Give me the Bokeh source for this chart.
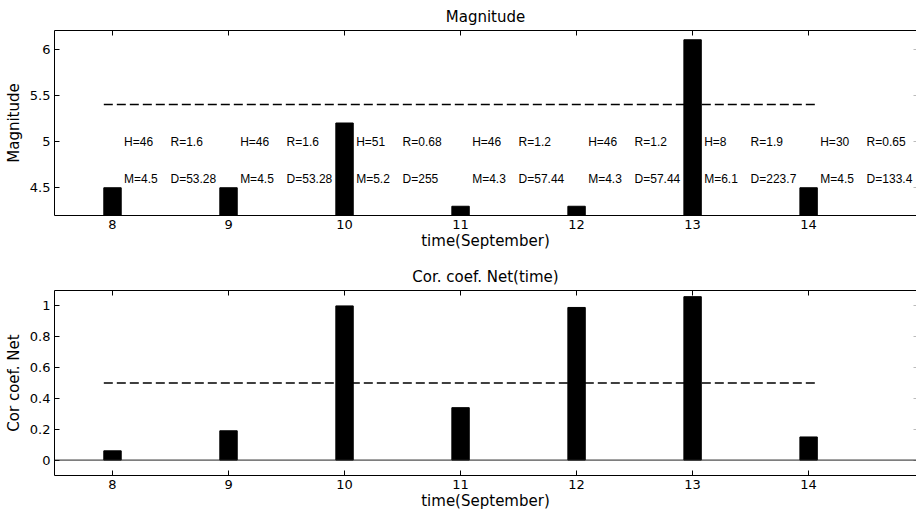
from bokeh.plotting import figure
from bokeh.models import Range1d, LinearAxis, FixedTicker, CustomJSTickFormatter, Span, ColumnDataSource
from bokeh.layouts import column
from bokeh.embed import file_html
from bokeh.resources import INLINE
from bokeh.core.properties import value

# ---------------- data ----------------
days = [8, 9, 10, 11, 12, 13, 14]
magnitude = [4.5, 4.5, 5.2, 4.3, 4.3, 6.1, 4.5]
cor_coef = [0.06, 0.19, 1.0, 0.34, 0.99, 1.06, 0.15]
H_vals = ["46", "46", "51", "46", "46", "8", "30"]
R_vals = ["1.6", "1.6", "0.68", "1.2", "1.2", "1.9", "0.65"]
M_vals = ["4.5", "4.5", "5.2", "4.3", "4.3", "6.1", "4.5"]
D_vals = ["53.28", "53.28", "255", "57.44", "57.44", "223.7", "133.4"]
mag_threshold = 5.4
cor_threshold = 0.5
x_ticks = [8, 9, 10, 11, 12, 13, 14]
mag_ticks = [4.5, 5, 5.5, 6]
cor_ticks = [0, 0.2, 0.4, 0.6, 0.8, 1]

FONT = "DejaVu Sans"
ANN_FONT = "Liberation Sans"
BAR_W = 0.15
fmt_code = "return Number(tick.toFixed(2)).toString();"


def style_axis(ax, show_labels=True):
    ax.axis_line_color = "black"
    ax.axis_line_width = 1
    ax.major_tick_line_color = "black"
    ax.minor_tick_line_color = None
    ax.major_tick_in = 5
    ax.major_tick_out = 0
    ax.major_label_text_font = FONT
    ax.major_label_text_color = "black"
    ax.axis_label_text_font = FONT
    ax.axis_label_text_font_style = "normal"
    ax.axis_label_text_font_size = "15px"
    ax.axis_label_text_color = "black"
    if show_labels:
        ax.major_label_text_font_size = "13px"
        ax.major_label_standoff = 4
        ax.formatter = CustomJSTickFormatter(code=fmt_code)
    else:
        ax.major_label_text_font_size = "0px"
        ax.major_label_standoff = 0
        ax.formatter = CustomJSTickFormatter(code="return '';")


def make_fig(title, ylabel, y0, y1, yticks, height, btop, bbottom):
    p = figure(width=916, height=height, output_backend="svg", toolbar_location=None,
               x_range=Range1d(7.5, 14.93), y_range=Range1d(y0, y1),
               min_border_left=54, min_border_right=0,
               min_border_top=btop, min_border_bottom=bbottom)
    p.outline_line_color = None
    p.xgrid.visible = False
    p.ygrid.visible = False
    p.title.text = title
    p.title.text_font = FONT
    p.title.text_font_size = "15px"
    p.title.text_font_style = "normal"
    p.title.align = "center"
    p.title.text_color = "black"

    p.xaxis.ticker = FixedTicker(ticks=x_ticks)
    p.yaxis.ticker = FixedTicker(ticks=yticks)
    p.xaxis.axis_label = "time(September)"
    p.yaxis.axis_label = ylabel
    for ax in p.xaxis + p.yaxis:
        style_axis(ax)
    p.xaxis.axis_label_standoff = 0
    p.yaxis.axis_label_standoff = 4

    top_ax = LinearAxis(ticker=FixedTicker(ticks=x_ticks))
    style_axis(top_ax, show_labels=False)
    p.add_layout(top_ax, "above")
    right_ax = LinearAxis(ticker=FixedTicker(ticks=yticks))
    style_axis(right_ax, show_labels=False)
    right_ax.axis_line_color = None
    right_ax.major_tick_in = 3
    right_ax.major_tick_line_color = "#bbbbbb"
    p.add_layout(right_ax, "right")
    return p


# ---------------- top: magnitude ----------------
p1 = make_fig("Magnitude", "Magnitude", 4.2, 6.2, mag_ticks, 255, 30, 40)
p1.vbar(x=days, top=magnitude, bottom=0, width=BAR_W, fill_color="black", line_color="black")
p1.line(x=[days[0] - BAR_W / 2, days[-1] + BAR_W / 2], y=[mag_threshold, mag_threshold],
        line_color="black", line_width=1.5, line_dash="9 4")

src = ColumnDataSource(dict(
    x1=[d + 0.1 for d in days], x2=[d + 0.5 for d in days],
    h=["H=" + v for v in H_vals], r=["R=" + v for v in R_vals],
    m=["M=" + v for v in M_vals], dd=["D=" + v for v in D_vals],
))
for xcol, tcol, yv in (("x1", "h", 5.0), ("x2", "r", 5.0), ("x1", "m", 4.6), ("x2", "dd", 4.6)):
    p1.text(x=xcol, y=yv, text=tcol, source=src, text_font=value(ANN_FONT),
            text_font_size="12px", text_align="left", text_baseline="middle", text_color="black")

# ---------------- bottom: correlation ----------------
p2 = make_fig("Cor. coef. Net(time)", "Cor coef. Net", -0.1, 1.1, cor_ticks, 259, 35, 39)
p2.add_layout(Span(location=0, dimension="width", line_color="#222222", line_width=1))
p2.vbar(x=days, top=cor_coef, bottom=0, width=BAR_W, fill_color="black", line_color="black")
p2.line(x=[days[0] - BAR_W / 2, days[-1] + BAR_W / 2], y=[cor_threshold, cor_threshold],
        line_color="black", line_width=1.5, line_dash="9 4")

layout = column(p1, p2, spacing=0)
open("out.html", "w").write(file_html(layout, INLINE))
